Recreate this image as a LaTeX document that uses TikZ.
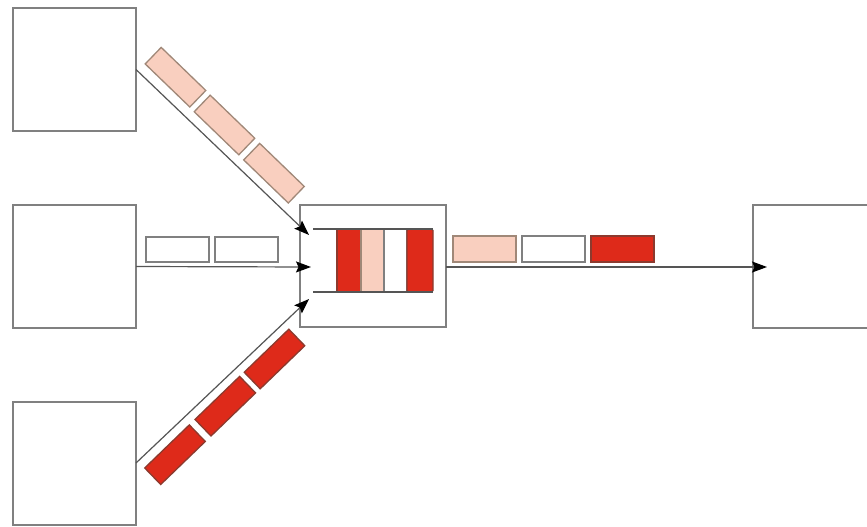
\documentclass[tikz,border=0pt]{standalone}
\usetikzlibrary{arrows.meta,calc}
\definecolor{pktred}{HTML}{DE2A1A}
\definecolor{pktpeach}{HTML}{F9CFBF}
\definecolor{boxgray}{HTML}{808080}
\definecolor{linegray}{HTML}{555555}
\definecolor{rededge}{HTML}{8C3A2E}
\definecolor{peachedge}{HTML}{A08878}
\begin{document}
\begin{tikzpicture}[x=1pt,y=-1pt,
  hostbox/.style={draw=boxgray,line width=2pt,fill=white,minimum width=123pt,minimum height=123pt,inner sep=0pt,outer sep=0pt},
  routerbox/.style={draw=boxgray,line width=2pt,fill=white,minimum width=146pt,minimum height=122pt,inner sep=0pt,outer sep=0pt},
  pkt/.style={line width=1.3pt,minimum width=62pt,minimum height=23pt,inner sep=0pt},
  pktR/.style={pkt,draw=rededge,fill=pktred},
  pktP/.style={pkt,draw=peachedge,fill=pktpeach},
  pktW/.style={pkt,draw=boxgray,fill=white},
  qslot/.style={line width=1.3pt,minimum height=63pt,inner sep=0pt,outer sep=0pt},
  flow/.style={draw=linegray,line width=1.2pt,-{Stealth[length=15pt,width=11pt,inset=2.5pt,color=black,fill=black]}},
  qline/.style={draw=linegray,line width=1.3pt}
]
\clip (0,0) rectangle (867,527);
\fill[white] (0,0) rectangle (867,527);
% hosts
\node[hostbox] (tl) at (74.5,69.5) {};
\node[hostbox] (ml) at (74.5,266.5) {};
\node[hostbox] (bl) at (74.5,463) {};
\node[hostbox] (rt) at (814.5,266.5) {};
% router
\node[routerbox] (cb) at (373,266) {};
% arrow end points
\coordinate (etop) at (309,235);
\coordinate (emid) at (311,267);
\coordinate (ebot) at (309,299);
\coordinate (eright) at (767,267);
\coordinate (sright) at (446,267);
% connectors
\draw[flow] (tl.east) -- (etop);
\draw[flow] (ml.east) -- (emid);
\draw[flow] (bl.east) -- (ebot);
\draw[flow] (sright) -- (eright);
% top diagonal packets
\node[pktP,rotate=-44] (t1) at (175.5,77.2) {};
\node[pktP,rotate=-44] (t2) at (224.5,125) {};
\node[pktP,rotate=-44] (t3) at (274,173.2) {};
% middle packets
\node[pktW,minimum width=63pt,minimum height=25pt] (m1) at (177.5,249.5) {};
\node[pktW,minimum width=63pt,minimum height=25pt] (m2) at (246.5,249.5) {};
% bottom diagonal packets
\node[pktR,rotate=44] (b1) at (175,454.7) {};
\node[pktR,rotate=44] (b2) at (225.3,406.2) {};
\node[pktR,rotate=44] (b3) at (274.5,359) {};
% queue
\node[qslot,draw=rededge,fill=pktred,minimum width=24pt] (q1) at (349,260.5) {};
\node[qslot,draw=peachedge,fill=pktpeach,minimum width=23pt] (q2) at (372.5,260.5) {};
\node[qslot,draw=boxgray,fill=white,minimum width=23pt] (q3) at (395.5,260.5) {};
\node[qslot,draw=rededge,fill=pktred,minimum width=26pt,rounded corners=1.5pt] (q4) at (420,260.5) {};
\coordinate (qtl) at (313,229);
\coordinate (qbl) at (313,292);
\draw[qline] (qtl) -- (q4.north east);
\draw[qline] (qbl) -- (q4.south east);
% outgoing packets
\node[pktP,minimum width=63pt,minimum height=26pt] (o1) at (484.5,249) {};
\node[pktW,minimum width=63pt,minimum height=26pt] (o2) at (553.5,249) {};
\node[pktR,minimum width=63pt,minimum height=26pt] (o3) at (622.5,249) {};
\end{tikzpicture}
\end{document}
